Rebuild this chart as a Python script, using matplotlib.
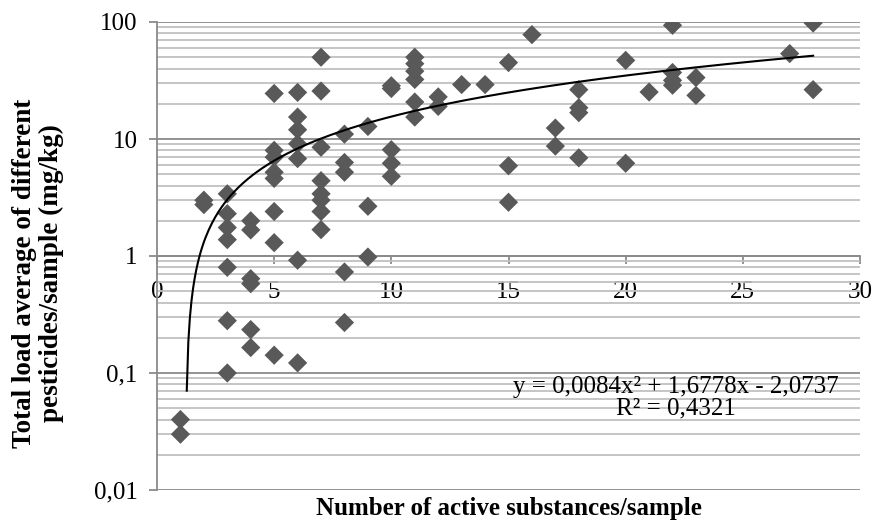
import numpy as np
import matplotlib.pyplot as plt
from matplotlib.ticker import FixedLocator, FixedFormatter, LogLocator, NullFormatter

plt.rcParams['font.family'] = ['Liberation Serif', 'DejaVu Serif']
plt.rcParams['font.size'] = 18

# samples: number of active substances vs total load (mg/kg)
n_substances = [
    1, 1,
    2, 2,
    3, 3, 3, 3, 3, 3, 3,
    4, 4, 4, 4, 4, 4,
    5, 5, 5, 5, 5, 5, 5, 5,
    6, 6, 6, 6, 6, 6, 6,
    7, 7, 7, 7, 7, 7, 7, 7,
    8, 8, 8, 8, 8,
    9, 9, 9,
    10, 10, 10, 10, 10,
    11, 11, 11, 11, 11, 11,
    12, 12,
    13,
    14,
    15, 15, 15,
    16,
    17, 17,
    18, 18, 18, 18,
    20, 20,
    21,
    22, 22, 22, 22,
    23, 23,
    27,
    28, 28,
]
total_load = [
    0.04, 0.03,
    3.0, 2.75,
    3.4, 2.3, 1.75, 1.38, 0.8, 0.28, 0.1,
    2.0, 1.67, 0.64, 0.58, 0.235, 0.165,
    24.5, 8.0, 7.0, 5.2, 4.6, 2.4, 1.3, 0.142,
    25.0, 15.4, 12.0, 9.1, 6.8, 0.92, 0.122,
    50.0, 25.7, 8.5, 4.4, 3.4, 3.0, 2.4, 1.68,
    11.0, 6.3, 5.2, 0.73, 0.27,
    12.8, 2.66, 0.98,
    28.5, 27.0, 8.1, 6.2, 4.8,
    50.0, 44.0, 38.0, 32.3, 20.7, 15.4,
    22.9, 19.0,
    29.2,
    29.2,
    45.0, 5.9, 2.88,
    78.0,
    12.4, 8.7,
    26.4, 18.5, 16.8, 6.9,
    47.0, 6.2,
    25.2,
    93.7, 37.0, 31.7, 28.8,
    33.5, 23.6,
    53.7,
    98.0, 26.4,
]

# polynomial trendline shown on the chart
trend_coef = [0.0084, 1.6778, -2.0737]
trend_range = [1.27, 28]
trend_label = "y = 0,0084x² + 1,6778x - 2,0737\nR² = 0,4321"

x_ticks = [0, 5, 10, 15, 20, 25, 30]
y_ticks = [0.01, 0.1, 1, 10, 100]
y_tick_labels = ["0,01", "0,1", "1", "10", "100"]

fig = plt.figure(figsize=(8.76, 5.22), dpi=100)
ax = fig.add_axes([157 / 876, 1 - 490 / 522, 703 / 876, 468 / 522])

ax.set_yscale('log')
ax.set_xlim(0, 30)
ax.set_ylim(0.01, 100)

# gridlines
ax.yaxis.set_minor_locator(LogLocator(base=10, subs=np.arange(2, 10)))
ax.yaxis.set_minor_formatter(NullFormatter())
ax.grid(True, which='major', axis='y', color='#8a8a8a', lw=1.3)
ax.grid(True, which='minor', axis='y', color='#c0c0c0', lw=1.3)
ax.set_axisbelow(True)

ax.scatter(n_substances, total_load, marker='D', s=96, color='#595959',
           edgecolors='none', zorder=3)

xs = np.linspace(trend_range[0], trend_range[1], 400)
ax.plot(xs, np.polyval(trend_coef, xs), color='black', lw=1.5, zorder=4)

# axes styling: x axis crosses at y = 1
for side in ['top', 'right']:
    ax.spines[side].set_visible(False)
ax.spines['bottom'].set_position(('data', 1))
ax.spines['bottom'].set_color('#8a8a8a')
ax.spines['left'].set_color('#8a8a8a')
ax.spines['bottom'].set_linewidth(1.3)
ax.spines['left'].set_linewidth(1.3)

ax.xaxis.set_major_locator(FixedLocator(x_ticks))
ax.yaxis.set_major_locator(FixedLocator(y_ticks))
ax.yaxis.set_major_formatter(FixedFormatter(y_tick_labels))
ax.tick_params(axis='x', which='major', direction='out', length=6, width=1.3,
               color='#8a8a8a', pad=12)
ax.tick_params(axis='y', which='major', direction='out', length=6, width=1.3,
               color='#8a8a8a', pad=8)
ax.tick_params(axis='y', which='minor', length=0)

ax.text(0.738, 0.197, trend_label, transform=ax.transAxes,
        ha='center', va='center', multialignment='center', linespacing=1.0)

fig.text(38 / 876, 1 - 273 / 522,
         "Total load average of different\npesticides/sample (mg/kg)",
         rotation=90, ha='center', va='center', fontweight='bold',
         fontsize=19.5, linespacing=1.1)
fig.text(509 / 876, 1 - 509 / 522, "Number of active substances/sample",
         ha='center', va='center', fontweight='bold')

fig.savefig('out.png', dpi=100)
